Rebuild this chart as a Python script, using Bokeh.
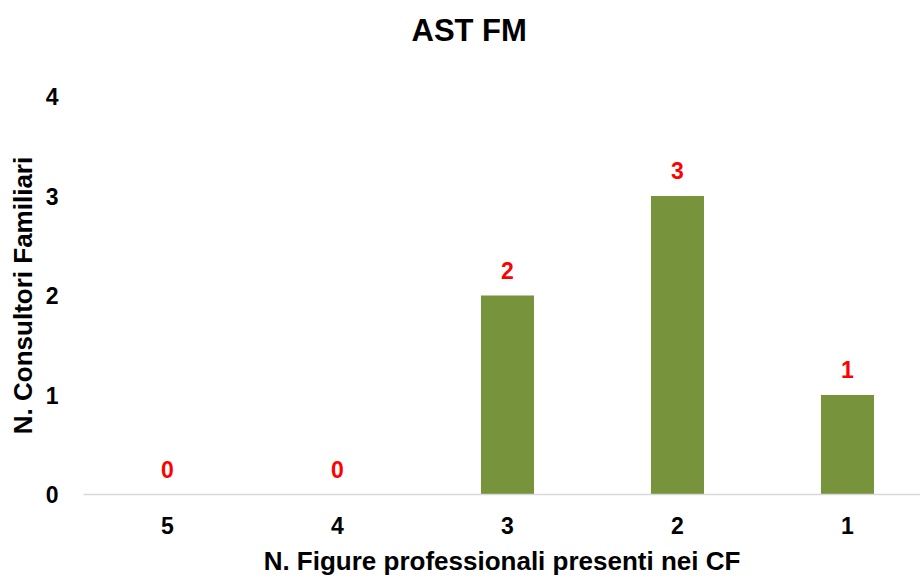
from bokeh.plotting import figure
from bokeh.models import ColumnDataSource, Range1d, FixedTicker, LabelSet, Title
from bokeh.core.properties import value
from bokeh.embed import file_html
from bokeh.resources import INLINE

title_text = "AST FM"
categories = ["5", "4", "3", "2", "1"]
values = [0, 0, 2, 3, 1]
y_ticks = [0, 1, 2, 3, 4]

xpos = list(range(1, len(categories) + 1))
labels = [str(v) for v in values]
src = ColumnDataSource(dict(x=xpos, top=values, label=labels))

FONT = "Liberation Sans"

p = figure(width=920, height=579, output_backend="svg", toolbar_location=None,
           title=title_text,
           x_range=Range1d(0.506, 0.506 + 837 / 170), y_range=Range1d(0, 4),
           min_border_left=83, min_border_right=0, min_border_top=96, min_border_bottom=85)
p.outline_line_color = None
p.xgrid.visible = False
p.ygrid.visible = False

p.vbar(x="x", top="top", width=0.312, bottom=0, source=src, fill_color="#77933C", line_color=None)

p.add_layout(LabelSet(x="x", y="top", text="label", source=src, y_offset=17,
                      text_align="center", text_baseline="alphabetic",
                      text_color="#FF0000", text_font=value(FONT), text_font_size="23px",
                      text_font_style="bold"))

# title
p.title.text_font = FONT
p.title.text_font_size = "31px"
p.title.text_font_style = "bold"
p.title.text_color = "black"
p.title.align = "left"
p.title.offset = 328
p.title.standoff = 16

# empty spacer between title and plot area
p.add_layout(Title(text=" ", text_font_size="10px", standoff=28), "above")

# x axis
xa = p.xaxis[0]
xa.ticker = FixedTicker(ticks=xpos)
xa.major_label_overrides = {x: c for x, c in zip(xpos, categories)}
xa.axis_line_color = "#D9D9D9"
xa.axis_line_width = 1.5
xa.major_tick_line_color = None
xa.minor_tick_line_color = None
xa.major_tick_out = 0
xa.major_label_standoff = 22
xa.major_label_text_font = FONT
xa.major_label_text_font_size = "23px"
xa.major_label_text_font_style = "bold"
xa.major_label_text_color = "black"
xa.axis_label = "N. Figure professionali presenti nei CF"
xa.axis_label_text_font = FONT
xa.axis_label_text_font_size = "26px"
xa.axis_label_text_font_style = "bold"
xa.axis_label_text_color = "black"
xa.axis_label_standoff = 9

# y axis
ya = p.yaxis[0]
ya.ticker = FixedTicker(ticks=y_ticks)
ya.axis_line_color = None
ya.major_tick_line_color = None
ya.minor_tick_line_color = None
ya.major_tick_out = 0
ya.major_label_standoff = 25
ya.major_label_text_font = FONT
ya.major_label_text_font_size = "23px"
ya.major_label_text_font_style = "bold"
ya.major_label_text_color = "black"
ya.axis_label = "N. Consultori Familiari"
ya.axis_label_text_font = FONT
ya.axis_label_text_font_size = "26px"
ya.axis_label_text_font_style = "bold"
ya.axis_label_text_color = "black"
ya.axis_label_standoff = 5

open("out.html", "w").write(file_html(p, INLINE))
